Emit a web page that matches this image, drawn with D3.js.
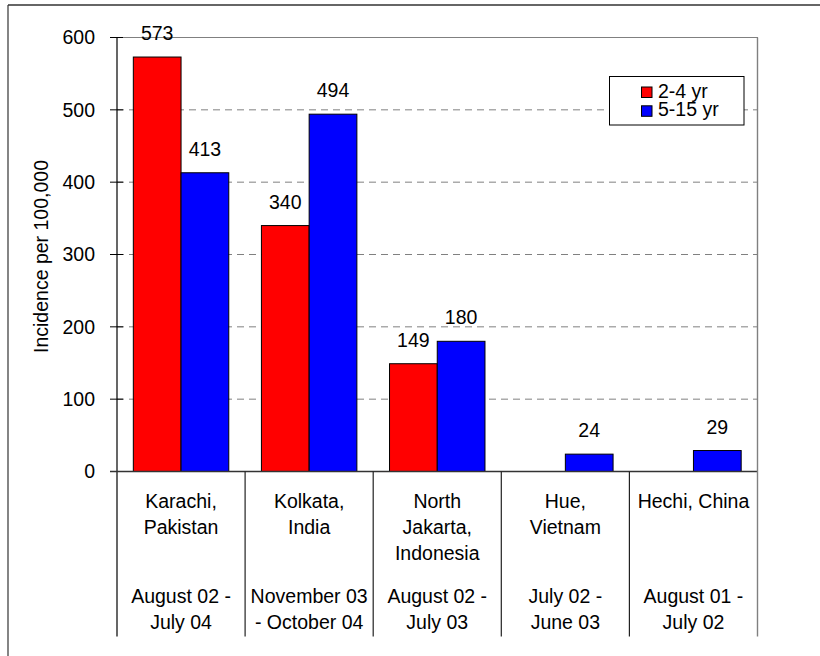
<!DOCTYPE html>
<html>
<head>
<meta charset="utf-8">
<script src="https://cdn.jsdelivr.net/npm/d3@7"></script>
<style>
  html, body { margin: 0; padding: 0; background: #fff; }
  svg { display: block; font-family: "Liberation Sans", Arial, sans-serif; }
</style>
</head>
<body>
<svg id="chart" width="820" height="656"></svg>
<script>
// ---- data ----
const cities = ["Karachi,|Pakistan", "Kolkata,|India", "North|Jakarta,|Indonesia", "Hue,|Vietnam", "Hechi, China"];
const periods = ["August 02 -|July 04", "November 03|- October 04", "August 02 -|July 03", "July 02 -|June 03", "August 01 -|July 02"];
const seriesNames = ["2-4 yr", "5-15 yr"];
const age2to4 = [573, 340, 149, null, null];
const age5to15 = [413, 494, 180, 24, 29];
const yTicks = [0, 100, 200, 300, 400, 500, 600];

// ---- layout ----
const svg = d3.select("#chart");
const pLeft = 117, pRight = 757.5, pTop = 37.5, pBottom = 471.5, catBottom = 636.5;
const fs = 19.5;
const colors = ["#FF0000", "#0000FF"];

const x0 = d3.scaleBand().domain(d3.range(cities.length)).range([pLeft, pRight]).padding(0);
const x1 = d3.scaleBand().domain(seriesNames).range([0, x0.bandwidth()]).paddingInner(0).paddingOuter(0.342);
const y = d3.scaleLinear().domain([0, 600]).range([pBottom, pTop]);

// outer frame (only top/left visible)
svg.append("line").attr("x1", 8).attr("x2", 820).attr("y1", 5).attr("y2", 5).attr("stroke", "#333").attr("stroke-width", 1.6);
svg.append("line").attr("x1", 8).attr("x2", 8).attr("y1", 5).attr("y2", 656).attr("stroke", "#333").attr("stroke-width", 1.2);

// gridlines
svg.append("g").selectAll("line").data(yTicks.filter(t => t > 0 && t < 600)).join("line")
  .attr("x1", pLeft).attr("x2", pRight).attr("y1", d => y(d)).attr("y2", d => y(d))
  .attr("stroke", "#808080").attr("stroke-width", 1).attr("stroke-dasharray", "7,5");
// plot area top border
svg.append("line").attr("x1", pLeft).attr("x2", pRight + 0.5).attr("y1", y(600)).attr("y2", y(600)).attr("stroke", "#808080").attr("stroke-width", 1.2);

// bars
const data = cities.map((c, i) => [age2to4[i], age5to15[i]]);
const groups = svg.append("g").selectAll("g").data(data).join("g")
  .attr("transform", (d, i) => `translate(${x0(i)},0)`);
groups.selectAll("rect").data(d => d.map((v, j) => ({ v, s: seriesNames[j], j })).filter(o => o.v != null)).join("rect")
  .attr("x", o => x1(o.s)).attr("width", x1.bandwidth())
  .attr("y", o => y(o.v)).attr("height", o => y(0) - y(o.v))
  .attr("fill", o => colors[o.j]).attr("stroke", "#000").attr("stroke-width", 1);
groups.selectAll("text").data(d => d.map((v, j) => ({ v, s: seriesNames[j], j })).filter(o => o.v != null)).join("text")
  .attr("x", o => x1(o.s) + x1.bandwidth() / 2).attr("y", o => y(o.v) - 17)
  .attr("text-anchor", "middle").attr("font-size", fs).attr("fill", "#000")
  .text(o => o.v);

// y axis
const yAxis = d3.axisLeft(y).tickValues(yTicks).tickSize(0).tickPadding(22);
const ga = svg.append("g").attr("transform", `translate(${pLeft},0)`).call(yAxis);
ga.select(".domain").remove();
ga.selectAll("text").attr("font-size", fs).attr("fill", "#000").attr("font-family", "Liberation Sans, Arial, sans-serif");
svg.append("g").selectAll("line").data(yTicks).join("line")
  .attr("x1", pLeft - 7).attr("x2", pLeft + 6).attr("y1", d => y(d)).attr("y2", d => y(d))
  .attr("stroke", "#000").attr("stroke-width", 1);
// axis line including category area
svg.append("line").attr("x1", pLeft).attr("x2", pLeft).attr("y1", pTop).attr("y2", catBottom).attr("stroke", "#000").attr("stroke-width", 1.2);
// zero line
svg.append("line").attr("x1", pLeft - 7).attr("x2", pRight + 0.5).attr("y1", y(0)).attr("y2", y(0)).attr("stroke", "#333").attr("stroke-width", 1.4);
// right border
svg.append("line").attr("x1", pRight).attr("x2", pRight).attr("y1", pTop).attr("y2", catBottom).attr("stroke", "#808080").attr("stroke-width", 1.4);
// category dividers
svg.append("g").selectAll("line").data(d3.range(1, cities.length)).join("line")
  .attr("x1", i => x0(i)).attr("x2", i => x0(i)).attr("y1", y(0)).attr("y2", catBottom)
  .attr("stroke", "#222").attr("stroke-width", 1.2);

// category labels
const lh = 26.3;
const catG = svg.append("g").attr("font-size", fs).attr("text-anchor", "middle").attr("fill", "#000");
cities.forEach((c, i) => {
  const cx = x0(i) + x0.bandwidth() / 2;
  c.split("|").forEach((line, k) => {
    catG.append("text").attr("x", cx).attr("y", 507.5 + k * lh).text(line);
  });
  periods[i].split("|").forEach((line, k) => {
    catG.append("text").attr("x", cx).attr("y", 602.7 + k * lh).text(line);
  });
});

// y axis title
svg.append("text").attr("transform", `translate(48,${(pTop + pBottom) / 2 + 2}) rotate(-90)`)
  .attr("text-anchor", "middle").attr("font-size", fs).attr("fill", "#000")
  .text("Incidence per 100,000");

// legend
const lg = svg.append("g");
lg.append("rect").attr("x", 609.5).attr("y", 76.5).attr("width", 134.5).attr("height", 48.5)
  .attr("fill", "#fff").attr("stroke", "#000").attr("stroke-width", 1);
seriesNames.forEach((s, i) => {
  lg.append("rect").attr("x", 641.5).attr("y", 87 + i * 18.8).attr("width", 10.5).attr("height", 10.5)
    .attr("fill", colors[i]).attr("stroke", "#000").attr("stroke-width", 1);
  lg.append("text").attr("x", 658).attr("y", 97.5 + i * 18.5).attr("font-size", fs).attr("fill", "#000").text(s);
});
</script>
</body>
</html>
